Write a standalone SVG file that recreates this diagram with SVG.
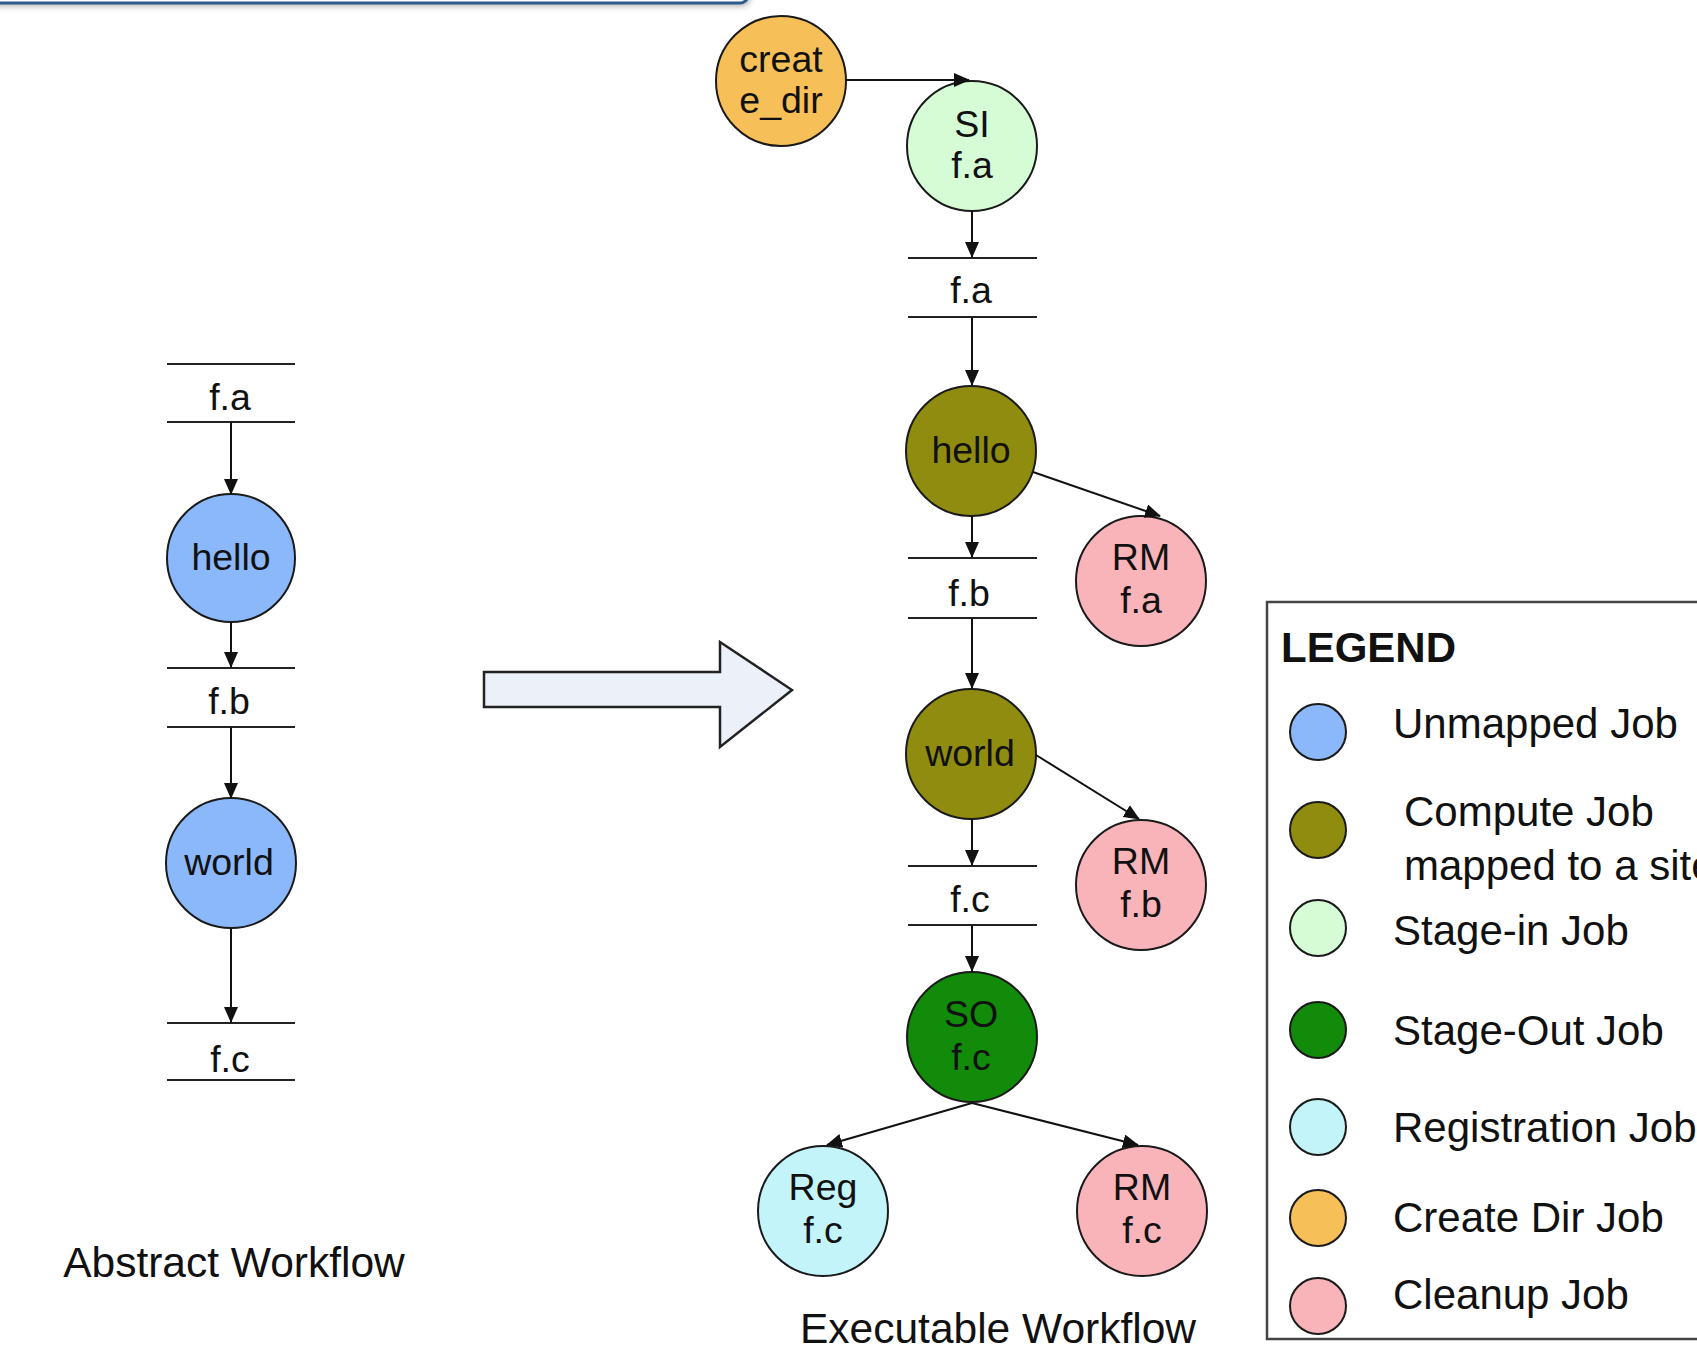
<svg xmlns="http://www.w3.org/2000/svg" width="1697" height="1348" viewBox="0 0 1697 1348">
<style>
text{font-family:"Liberation Sans",Arial,sans-serif;fill:#111;text-anchor:middle}
.lbl{font-size:37.5px}
.big{font-size:42.5px}
.leg{font-size:42px;text-anchor:start}
.node{stroke:#1a1a1a;stroke-width:2}
.conn line,.conn path{stroke:#111;stroke-width:2;fill:none}
.file line{stroke:#222;stroke-width:2.2}
.unm{fill:#8ab8fb}.cmp{fill:#8f8c10}.sin{fill:#d6fcd6}.sout{fill:#128a0a}.reg{fill:#c3f4fa}.cdir{fill:#f6bf58}.cln{fill:#f9b4ba}
</style>
<defs>
<marker id="ah" markerUnits="userSpaceOnUse" markerWidth="16" markerHeight="14" refX="15" refY="7" orient="auto">
<path d="M0,0 L16,7 L0,14 z" fill="#111"/>
</marker>
<filter id="sh" x="-5%" y="-50%" width="110%" height="300%">
<feGaussianBlur stdDeviation="3"/>
</filter>
</defs>

<g id="topbar">
<rect x="-20" y="-40" width="770" height="46" rx="8" fill="#888" filter="url(#sh)" opacity="0.7"/>
<rect x="-20" y="-40" width="768" height="43" rx="8" fill="#fff" stroke="#2d5b8d" stroke-width="3"/>
</g>

<!-- Abstract workflow -->
<g id="abs-fa" class="file"><line x1="167" y1="364" x2="295" y2="364"/><line x1="167" y1="422" x2="295" y2="422"/><text class="lbl" x="230" y="410">f.a</text></g>
<g id="abs-hello"><circle class="node unm" cx="231" cy="558" r="64"/><text class="lbl" x="231" y="570">hello</text></g>
<g id="abs-fb" class="file"><line x1="167" y1="668" x2="295" y2="668"/><line x1="167" y1="727" x2="295" y2="727"/><text class="lbl" x="229" y="714">f.b</text></g>
<g id="abs-world"><circle class="node unm" cx="231" cy="863" r="65"/><text class="lbl" x="229" y="875">world</text></g>
<g id="abs-fc" class="file"><line x1="167" y1="1023" x2="295" y2="1023"/><line x1="167" y1="1080" x2="295" y2="1080"/><text class="lbl" x="230" y="1072">f.c</text></g>
<text id="abs-title" class="big" x="234" y="1277">Abstract Workflow</text>

<!-- big arrow -->
<g id="transform-arrow">
<path d="M484,672 L720,672 L720,642 L792,690 L720,747 L720,707 L484,707 Z" fill="#ebf0f9" stroke="#222" stroke-width="2.5" stroke-linejoin="miter"/>
</g>

<!-- Executable workflow -->
<g id="ex-createdir"><circle class="node cdir" cx="781" cy="81" r="65"/><text class="lbl" x="781" y="72">creat</text><text class="lbl" x="781" y="113">e_dir</text></g>
<g id="ex-si"><circle class="node sin" cx="972" cy="146" r="65"/><text class="lbl" x="972" y="137">SI</text><text class="lbl" x="972" y="178">f.a</text></g>
<g id="ex-fa" class="file"><line x1="908" y1="258" x2="1037" y2="258"/><line x1="908" y1="317" x2="1037" y2="317"/><text class="lbl" x="971" y="303">f.a</text></g>
<g id="ex-hello"><circle class="node cmp" cx="971" cy="451" r="65"/><text class="lbl" x="971" y="463">hello</text></g>
<g id="ex-rmfa"><circle class="node cln" cx="1141" cy="581" r="65"/><text class="lbl" x="1141" y="570">RM</text><text class="lbl" x="1141" y="613">f.a</text></g>
<g id="ex-fb" class="file"><line x1="908" y1="558" x2="1037" y2="558"/><line x1="908" y1="618" x2="1037" y2="618"/><text class="lbl" x="969" y="606">f.b</text></g>
<g id="ex-world"><circle class="node cmp" cx="971" cy="754" r="65"/><text class="lbl" x="970" y="766">world</text></g>
<g id="ex-rmfb"><circle class="node cln" cx="1141" cy="885" r="65"/><text class="lbl" x="1141" y="874">RM</text><text class="lbl" x="1141" y="917">f.b</text></g>
<g id="ex-fc" class="file"><line x1="908" y1="866" x2="1037" y2="866"/><line x1="908" y1="925" x2="1037" y2="925"/><text class="lbl" x="970" y="912">f.c</text></g>
<g id="ex-so"><circle class="node sout" cx="972" cy="1037" r="65"/><text class="lbl" x="971" y="1027">SO</text><text class="lbl" x="971" y="1070">f.c</text></g>
<g id="ex-reg"><circle class="node reg" cx="823" cy="1211" r="65"/><text class="lbl" x="823" y="1200">Reg</text><text class="lbl" x="823" y="1243">f.c</text></g>
<g id="ex-rmfc"><circle class="node cln" cx="1142" cy="1211" r="65"/><text class="lbl" x="1142" y="1200">RM</text><text class="lbl" x="1142" y="1243">f.c</text></g>
<text id="ex-title" class="big" x="998" y="1343">Executable Workflow</text>

<!-- connectors -->
<g id="connectors" class="conn">
<line x1="231" y1="422" x2="231" y2="494" marker-end="url(#ah)"/>
<line x1="231" y1="622" x2="231" y2="667" marker-end="url(#ah)"/>
<line x1="231" y1="727" x2="231" y2="798" marker-end="url(#ah)"/>
<line x1="231" y1="928" x2="231" y2="1022" marker-end="url(#ah)"/>

<line x1="846" y1="80" x2="969" y2="80" marker-end="url(#ah)"/>
<line x1="972" y1="211" x2="972" y2="257" marker-end="url(#ah)"/>
<line x1="972" y1="317" x2="972" y2="385" marker-end="url(#ah)"/>
<line x1="1033" y1="472" x2="1160" y2="516" marker-end="url(#ah)"/>
<line x1="972" y1="516" x2="972" y2="557" marker-end="url(#ah)"/>
<line x1="972" y1="618" x2="972" y2="688" marker-end="url(#ah)"/>
<line x1="1036" y1="755" x2="1139" y2="819" marker-end="url(#ah)"/>
<line x1="972" y1="819" x2="972" y2="865" marker-end="url(#ah)"/>
<line x1="972" y1="925" x2="972" y2="971" marker-end="url(#ah)"/>
<line x1="972" y1="1103" x2="827" y2="1145" marker-end="url(#ah)"/>
<line x1="972" y1="1103" x2="1138" y2="1145" marker-end="url(#ah)"/>
</g>

<!-- legend -->
<g id="legend">
<rect x="1267" y="602" width="460" height="737" fill="#fff" stroke="#444" stroke-width="2.5"/>
<text x="1281" y="662" style="font-size:42px;font-weight:bold;text-anchor:start">LEGEND</text>
<circle class="node unm" cx="1318" cy="732" r="28"/><text class="leg" x="1393" y="738">Unmapped Job</text>
<circle class="node cmp" cx="1318" cy="830" r="28"/><text class="leg" x="1404" y="826">Compute Job</text><text class="leg" x="1404" y="880">mapped to a site</text>
<circle class="node sin" cx="1318" cy="928" r="28"/><text class="leg" x="1393" y="945">Stage-in Job</text>
<circle class="node sout" cx="1318" cy="1030" r="28"/><text class="leg" x="1393" y="1045">Stage-Out Job</text>
<circle class="node reg" cx="1318" cy="1127" r="28"/><text class="leg" x="1393" y="1142">Registration Job</text>
<circle class="node cdir" cx="1318" cy="1218" r="28"/><text class="leg" x="1393" y="1232">Create Dir Job</text>
<circle class="node cln" cx="1318" cy="1306" r="28"/><text class="leg" x="1393" y="1309">Cleanup Job</text>
</g>
</svg>
